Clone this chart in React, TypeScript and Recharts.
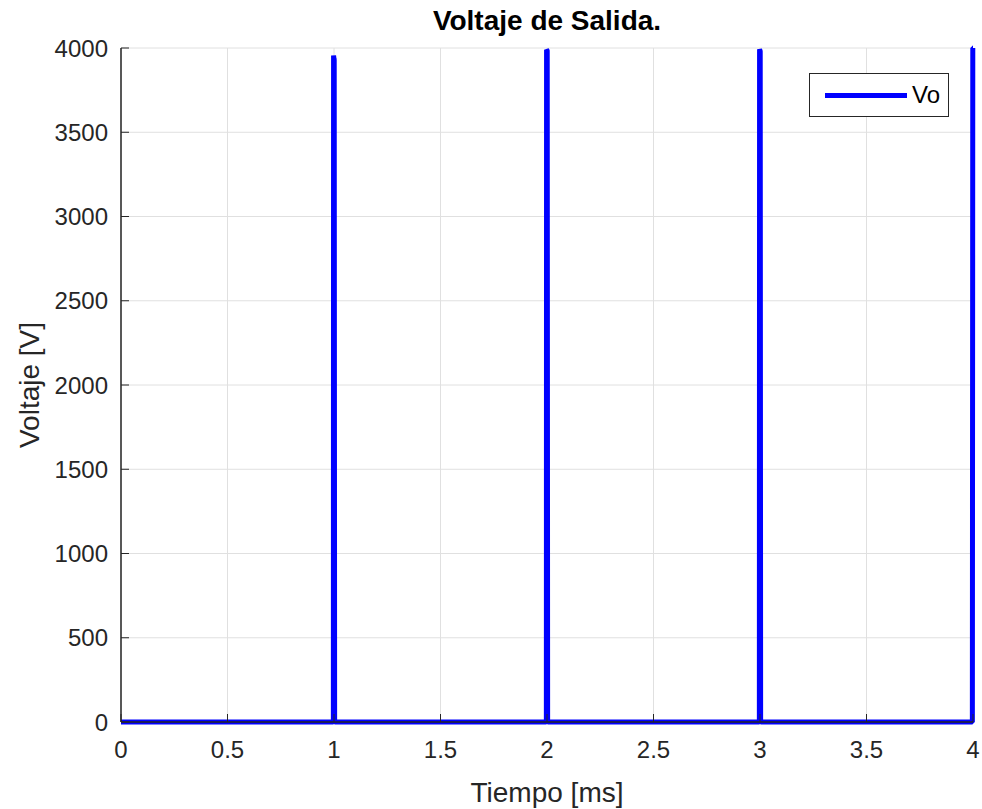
import React from "react";
import { LineChart, Line, XAxis, YAxis, CartesianGrid } from "recharts";

const timeMs = [0, 0.997, 0.998, 1.0, 1.001, 1.003, 1.997, 1.998, 2.001, 2.003, 2.997, 2.998, 3.001, 3.003, 3.997, 3.999, 4.0];
const voltage = [0, 0, 3955, 3935, 3930, 0, 0, 3990, 3985, 0, 0, 3992, 3980, 0, 0, 4000, 4000];
const xTicks = [0, 0.5, 1, 1.5, 2, 2.5, 3, 3.5, 4];
const yTicks = [0, 500, 1000, 1500, 2000, 2500, 3000, 3500, 4000];

const data = timeMs.map((t, i) => ({ t, v: voltage[i] }));

const FONT = "'Liberation Sans', Arial, Helvetica, sans-serif";
const AX = "#262626";

export default function App() {
  return (
    <div style={{ position: "absolute", left: 0, top: 0, width: 982, height: 809, background: "#fff", fontFamily: FONT }}>
      <div style={{ position: "absolute", left: 0, top: 5, width: 1094, textAlign: "center", fontWeight: "bold", fontSize: 28, color: "#000", lineHeight: "32px" }}>
        Voltaje de Salida.
      </div>
      <LineChart width={982} height={809} data={data} margin={{ top: 48, right: 9, bottom: 0, left: 0 }}>
        <CartesianGrid stroke="#e0e0e0" strokeWidth={1} horizontalValues={yTicks} verticalValues={xTicks} />
        <XAxis
          dataKey="t"
          type="number"
          domain={[0, 4]}
          ticks={xTicks}
          height={87}
          axisLine={{ stroke: AX, strokeWidth: 1.5 }}
          tickLine={{ stroke: AX }}
          tickSize={-8}
          tickMargin={27}
          tick={{ fill: AX, fontSize: 24, fontFamily: FONT }}
          label={{ value: "Tiempo [ms]", position: "insideBottom", offset: 7, fill: AX, fontSize: 28, fontFamily: FONT }}
        />
        <XAxis
          xAxisId="top"
          dataKey="t"
          type="number"
          orientation="top"
          domain={[0, 4]}
          ticks={xTicks}
          height={0}
          axisLine={{ stroke: AX, strokeWidth: 1.5 }}
          tickLine={{ stroke: AX }}
          tickSize={-8}
          tick={false}
        />
        <YAxis
          type="number"
          domain={[0, 4000]}
          ticks={yTicks}
          width={121}
          axisLine={{ stroke: AX, strokeWidth: 1.5 }}
          tickLine={{ stroke: AX }}
          tickSize={-8}
          tickMargin={21}
          tick={{ fill: AX, fontSize: 24, fontFamily: FONT }}
          label={{ value: "Voltaje [V]", angle: -90, position: "insideLeft", offset: 29, fill: AX, fontSize: 28, fontFamily: FONT, style: { textAnchor: "middle" } }}
        />
        <YAxis
          yAxisId="right"
          type="number"
          orientation="right"
          domain={[0, 4000]}
          ticks={yTicks}
          width={0}
          axisLine={{ stroke: AX, strokeWidth: 1.5 }}
          tickLine={{ stroke: AX }}
          tickSize={-8}
          tick={false}
        />
        <Line
          type="linear"
          dataKey="v"
          stroke="#0000ff"
          strokeWidth={5}
          dot={false}
          activeDot={false}
          strokeLinejoin="bevel"
          isAnimationActive={false}
        />
      </LineChart>
      <div
        style={{
          position: "absolute",
          left: 809,
          top: 73,
          width: 140,
          height: 44,
          border: "1.5px solid #262626",
          background: "#fff",
          display: "flex",
          alignItems: "center",
          boxSizing: "border-box",
        }}
      >
        <div style={{ marginLeft: 15, width: 82, height: 5, background: "#0000ff" }} />
        <span style={{ marginLeft: 5, fontSize: 24, color: "#000" }}>Vo</span>
      </div>
    </div>
  );
}
